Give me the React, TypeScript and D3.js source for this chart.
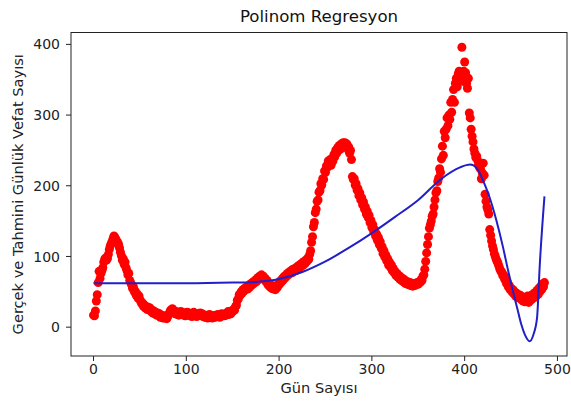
import React from "react";
import * as d3 from "d3";

// Daily deaths, one value per day starting at day 0
const dailyDeaths: number[] = [
  17, 16, 23, 37, 46, 63, 79, 69, 76, 80,
  84, 92, 96, 98, 95, 97, 103, 110, 115, 118,
  121, 125, 129, 127, 124, 122, 120, 117, 112, 106,
  101, 95, 97, 89, 92, 84, 80, 74, 76, 66,
  63, 60, 55, 57, 50, 51, 45, 47, 41, 44,
  39, 36, 33, 34, 29, 31, 27, 29, 25, 28,
  25, 27, 22, 24, 20, 23, 19, 21, 17, 20,
  17, 19, 14, 17, 15, 13, 16, 13, 15, 12,
  15, 18, 21, 24, 22, 26, 24, 21, 19, 22,
  18, 21, 17, 20, 22, 19, 21, 17, 19, 16,
  19, 21, 18, 20, 16, 18, 15, 19, 21, 17,
  18, 15, 19, 16, 18, 20, 17, 19, 15, 16,
  14, 17, 15, 13, 16, 18, 14, 16, 13, 15,
  16, 14, 17, 15, 18, 16, 14, 17, 19, 16,
  18, 16, 19, 17, 20, 22, 18, 21, 19, 23,
  22, 25, 24, 29, 31, 38, 40, 46, 45, 50,
  48, 53, 51, 55, 53, 57, 54, 58, 56, 61,
  59, 63, 61, 65, 63, 67, 65, 70, 68, 72,
  71, 74, 70, 72, 67, 69, 64, 66, 60, 62,
  57, 60, 55, 58, 54, 57, 53, 58, 56, 61,
  60, 65, 63, 68, 66, 71, 69, 73, 72, 76,
  74, 78, 76, 80, 77, 82, 79, 83, 80, 85,
  82, 87, 84, 89, 86, 91, 88, 93, 90, 95,
  93, 98, 96, 103, 108, 120, 128, 142, 148, 162,
  167, 178, 180, 191, 193, 203, 201, 210, 209, 221,
  219, 228, 226, 235, 231, 237, 229, 236, 235, 244,
  241, 250, 246, 254, 250, 257, 252, 259, 255, 261,
  258, 261, 255, 259, 252, 255, 246, 250, 237, 213,
  209, 210, 201, 203, 194, 196, 186, 190, 180, 183,
  173, 177, 167, 170, 160, 164, 155, 158, 148, 151,
  141, 145, 135, 138, 129, 132, 123, 127, 117, 121,
  112, 114, 104, 108, 99, 102, 94, 97, 88, 92,
  85, 88, 80, 83, 77, 79, 73, 76, 71, 73,
  68, 71, 66, 69, 64, 67, 62, 65, 61, 64,
  60, 63, 59, 62, 58, 61, 59, 62, 60, 63,
  61, 64, 63, 67, 66, 72, 74, 82, 93, 105,
  117, 128, 140, 145, 150, 157, 160, 170, 180, 190,
  193, 206, 211, 224, 219, 238, 256, 243, 277, 268,
  280, 296, 285, 300, 294, 318, 304, 322, 336, 318,
  345, 352, 340, 358, 362, 350, 355, 396, 348, 362,
  375, 360, 345, 338, 352, 303, 296, 280, 270, 262,
  252, 246, 240, 242, 236, 230, 226, 224, 210, 218,
  232, 215, 188, 178, 170, 166, 160, 138, 130, 122,
  115, 110, 104, 100, 96, 93, 90, 86, 82, 79,
  78, 73, 74, 68, 69, 62, 64, 57, 59, 53,
  55, 50, 53, 47, 50, 44, 48, 42, 46, 41,
  45, 39, 43, 37, 42, 36, 41, 38, 44, 35,
  42, 38, 45, 40, 47, 42, 49, 44, 52, 46,
  55, 50, 58, 53, 61, 57, 63,
];

// Polynomial model prediction, sampled along the day axis
const fitDays: number[] = [
  0, 50, 100, 150, 175, 200, 225, 250, 275, 300, 325, 350, 375, 395, 406,
  413, 420, 427, 434, 441, 447, 452, 457, 461, 465, 470, 474, 478, 481, 486,
];
const fitValues: number[] = [
  62, 62, 62, 63, 64, 68, 78, 93, 112, 133, 156, 180, 210, 226, 230,
  225, 207, 183, 152, 115, 79, 51, 25, 4, -11, -20, -11, 13, 89, 185,
];

const xTicks: number[] = [0, 100, 200, 300, 400, 500];
const yTicks: number[] = [0, 100, 200, 300, 400];

const titleText = "Polinom Regresyon";
const xLabel = "Gün Sayısı";
const yLabel = "Gerçek ve Tahmini Günlük Vefat Sayısı";

const W = 571;
const H = 403;
const plot = { left: 71, right: 567, top: 32.5, bottom: 356 };
const font = "'DejaVu Sans', sans-serif";

export default function App() {
  const points = dailyDeaths.map((v, i) => ({ day: i, value: v }));
  const fit = fitDays.map((d, i) => ({ day: d, value: fitValues[i] }));

  const xMin = 0;
  const xMax = dailyDeaths.length - 1;
  const xPad = (xMax - xMin) * 0.05;
  const allY = [...dailyDeaths, ...fitValues];
  const yMin = d3.min(allY) as number;
  const yMax = d3.max(allY) as number;
  const yPad = (yMax - yMin) * 0.05;

  const x = d3
    .scaleLinear()
    .domain([xMin - xPad, xMax + xPad])
    .range([plot.left, plot.right]);
  const y = d3
    .scaleLinear()
    .domain([yMin - yPad, yMax + yPad])
    .range([plot.bottom, plot.top]);

  const line = d3
    .line<{ day: number; value: number }>()
    .x((d) => x(d.day))
    .y((d) => y(d.value))
    .curve(d3.curveMonotoneX);

  const midX = (plot.left + plot.right) / 2;
  const midY = (plot.top + plot.bottom) / 2;

  return (
    <svg
      width={W}
      height={H}
      style={{ position: "absolute", left: 0, top: 0, background: "#fff" }}
      fontFamily={font}
    >
      <rect x={0} y={0} width={W} height={H} fill="#fff" />
      <defs>
        <clipPath id="plot-area">
          <rect
            x={plot.left}
            y={plot.top}
            width={plot.right - plot.left}
            height={plot.bottom - plot.top}
          />
        </clipPath>
      </defs>

      <g clipPath="url(#plot-area)">
        {points.map((p) => (
          <circle key={p.day} cx={x(p.day)} cy={y(p.value)} r={4.5} fill="#ff0000" />
        ))}
        <path d={line(fit) ?? ""} fill="none" stroke="#2020c8" strokeWidth={2} />
      </g>

      {/* frame */}
      <rect
        x={plot.left}
        y={plot.top}
        width={plot.right - plot.left}
        height={plot.bottom - plot.top}
        fill="none"
        stroke="#222"
        strokeWidth={1}
      />

      {/* x axis ticks */}
      {xTicks.map((t) => (
        <g key={"x" + t}>
          <line x1={x(t)} x2={x(t)} y1={plot.bottom} y2={plot.bottom + 5} stroke="#222" />
          <text x={x(t)} y={374} fontSize={14} textAnchor="middle" fill="#222">
            {t}
          </text>
        </g>
      ))}

      {/* y axis ticks */}
      {yTicks.map((t) => (
        <g key={"y" + t}>
          <line x1={plot.left - 5} x2={plot.left} y1={y(t)} y2={y(t)} stroke="#222" />
          <text
            x={plot.left - 11}
            y={y(t)}
            dy="0.36em"
            fontSize={14}
            textAnchor="end"
            fill="#222"
          >
            {t}
          </text>
        </g>
      ))}

      <text x={midX} y={22} fontSize={16.6} textAnchor="middle" fill="#111">
        {titleText}
      </text>
      <text x={midX} y={393} fontSize={14.6} textAnchor="middle" fill="#222">
        {xLabel}
      </text>
      <text
        transform={`translate(23, ${midY}) rotate(-90)`}
        fontSize={14.6}
        textAnchor="middle"
        fill="#222"
      >
        {yLabel}
      </text>
    </svg>
  );
}
